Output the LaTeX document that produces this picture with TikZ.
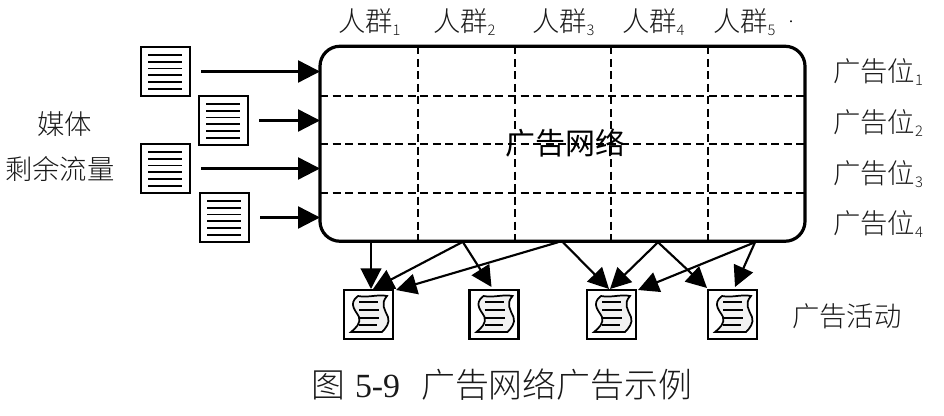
\documentclass[tikz,border=0pt]{standalone}
\usepackage{fontspec}
\setmainfont{Liberation Serif}
\newfontfamily\cjk[UprightFont=* Light]{Noto Sans CJK SC}
\newfontfamily\cjkreg{Noto Sans CJK SC}
\usetikzlibrary{arrows.meta,calc}
\newcommand{\subd}[1]{\raisebox{-0.3ex}{\fontsize{11}{11}\selectfont #1}}
\tikzset{
  network/.style={draw,line width=2.4pt,rounded corners=15pt,minimum width=363.75pt,minimum height=146.25pt,inner sep=0,outer sep=0},
  grid line/.style={line width=1.25pt,dash pattern=on 6pt off 3.4pt},
  sheet/.style={draw,line width=1.6pt,fill=white,minimum size=36.75pt,inner sep=0,outer sep=0},
  rule line/.style={line width=1.4pt},
  feed/.style={line width=1.8pt,-{Triangle[length=16.5pt,width=16.5pt]}},
  serve/.style={line width=1.6pt,-{Triangle[length=15.5pt,width=15.5pt]}},
  label/.style={inner sep=0,outer sep=0,anchor=west,font=\fontsize{20.5}{20.5}\selectfont\cjk,text=black!90},
}
\begin{document}
\begin{tikzpicture}[x=0.75pt,y=-0.75pt]
\useasboundingbox (0,0) rectangle (944,416);

% ad network grid
\node[network] (net) at (562.5,143.75) {};
\foreach \dx in {98,195,291,388}
  \draw[grid line] ($(net.north west)+(\dx,0)$) -- ($(net.south west)+(\dx,0)$);
\foreach \dy in {50,98,147}
  \draw[grid line] ($(net.north west)+(0,\dy)$) -- ($(net.north east)+(0,\dy)$);
\node[inner sep=0,outer sep=0,font=\fontsize{22.5}{22.5}\selectfont\cjkreg] (name) at (565,143) {广告网络};

% inventory sheets on the left
\node[sheet] (d1) at (165.5,71.5) {};
\node[sheet] (d2) at (223.5,120.5) {};
\node[sheet] (d3) at (165.5,168.5) {};
\node[sheet] (d4) at (224.5,217.5) {};
\foreach \d in {d1,d2,d3,d4}
  \foreach \dy in {8,15,21.5,28,35,42}
    \draw[rule line] ($(\d.north west)+(7,\dy)$) -- ($(\d.north west)+(41,\dy)$);
\foreach \d in {d1,d2,d3,d4}
  \draw[feed,shorten <=8.25pt] (\d.east) -- (\d.east -| net.west);

% campaign sheets below the grid
\node[sheet] (c1) at (368.5,314.5) {};
\node[sheet] (c2) at (494,314.5) {};
\node[sheet] (c3) at (611.5,314.5) {};
\node[sheet] (c4) at (732.5,314.5) {};
\foreach \c in {c1,c2,c3,c4} {
  \coordinate (o) at (\c.north west);
  \draw[line width=1.3pt,fill=black!5]
    ($(o)+(14,6)$) .. controls ($(o)+(24,8)$) and ($(o)+(34,4)$) .. ($(o)+(43,6)$)
    .. controls ($(o)+(36,14)$) and ($(o)+(41,20)$) .. ($(o)+(44,27)$)
    .. controls ($(o)+(46,33)$) and ($(o)+(42,38)$) .. ($(o)+(38,42)$)
    -- ($(o)+(7,42)$)
    .. controls ($(o)+(12,38)$) and ($(o)+(17,33)$) .. ($(o)+(15,27)$)
    .. controls ($(o)+(13,22)$) and ($(o)+(3,14)$) .. cycle;
  \foreach \dy/\xe in {12/34,20/35,28/35,35/33}
    \draw[line width=1.2pt] ($(o)+(15,\dy)$) -- ($(o)+(\xe,\dy)$);
}

% serving arrows from the grid to the campaigns
\draw[serve] ($(net.south west)+(51,0)$) -- ($(c1.north west)+(27,-1)$);
\draw[serve] ($(net.south west)+(142,1)$) -- ($(c1.north west)+(29,-1)$);
\draw[serve] ($(net.south west)+(143,1)$) -- ($(c2.north west)+(22,-3)$);
\draw[serve] ($(net.south west)+(238,1)$) -- ($(c1.north west)+(52,0)$);
\draw[serve] ($(net.south west)+(243,1)$) -- ($(c3.north west)+(22,-1)$);
\draw[serve] ($(net.south west)+(338,1)$) -- ($(c3.north west)+(23,-1)$);
\draw[serve] ($(net.south west)+(338,1)$) -- ($(c4.north west)+(-1,-2)$);
\draw[serve] ($(net.south west)+(435,1)$) -- ($(c3.north west)+(51,0)$);
\draw[serve] ($(net.south west)+(435,1)$) -- ($(c4.north west)+(27,-3)$);

% audience labels along the top
\node[label] (p1) at (338,22) {人群\subd{1}};
\node[label] (p2) at (433,22) {人群\subd{2}};
\node[label] (p3) at (532,22) {人群\subd{3}};
\node[label] (p4) at (622,22) {人群\subd{4}};
\node[label] (p5) at (713,22) {人群\subd{5}};
\node[inner sep=0,font=\fontsize{12}{12}\selectfont] (dot) at (791,22) {.};

% slot labels along the right
\node[label] (s1) at (833,72) {广告位\subd{1}};
\node[label] (s2) at (833,123) {广告位\subd{2}};
\node[label] (s3) at (833,174) {广告位\subd{3}};
\node[label] (s4) at (833,224) {广告位\subd{4}};

% media and campaign captions
\node[label] (m1) at (37,124) {媒体};
\node[label] (m2) at (5,169) {剩余流量};
\node[label] (act) at (792,316) {广告活动};

% figure caption
\node[inner sep=0,outer sep=0,anchor=west,font=\fontsize{25.4}{25.4}\selectfont,text=black!90] (cap) at (311,385)
  {{\cjk 图}\hspace{0.3em}5-9\hspace{0.62em}{\cjk 广告网络广告示例}};
\end{tikzpicture}
\end{document}
